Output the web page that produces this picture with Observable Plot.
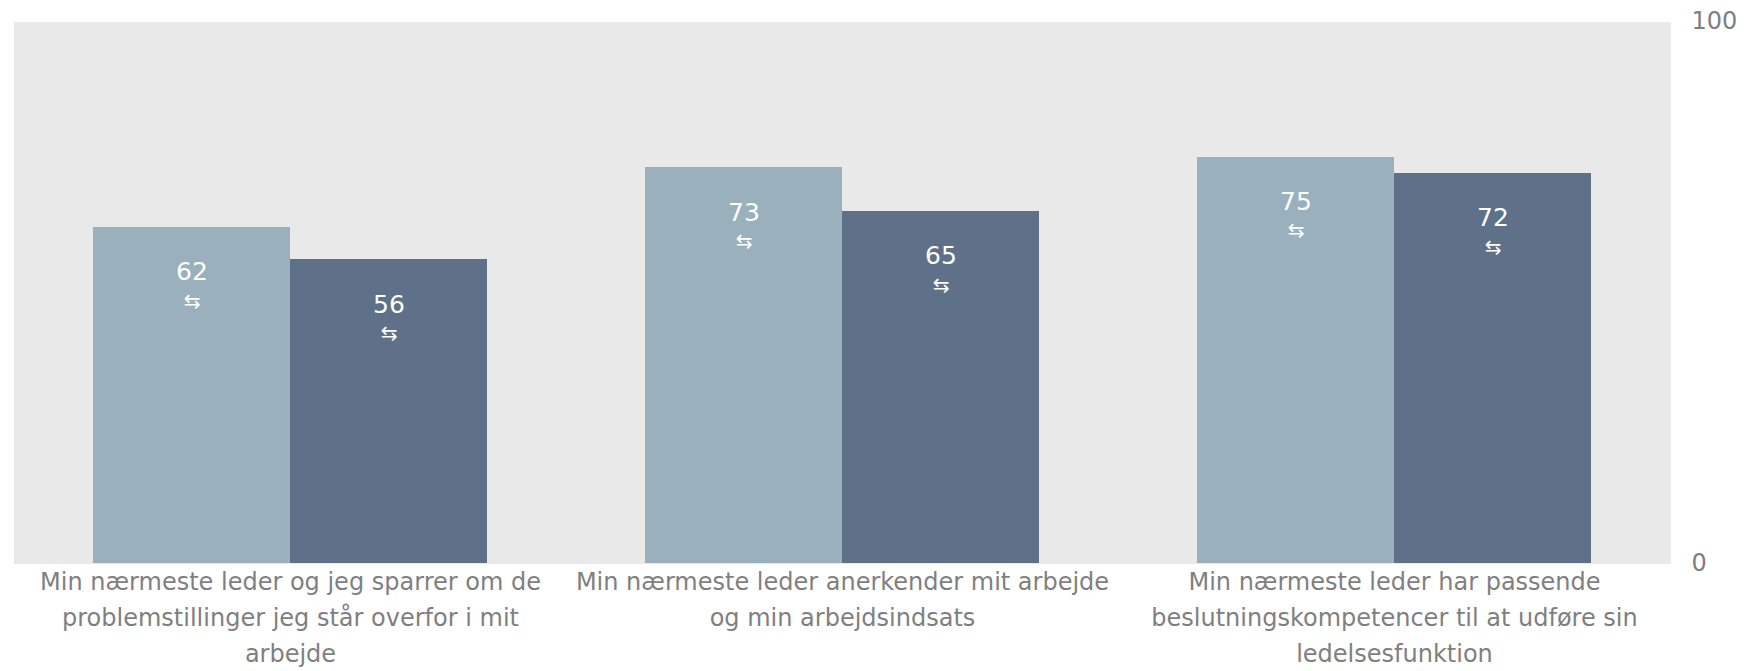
<!DOCTYPE html>
<html>
<head>
<meta charset="utf-8">
<script src="https://cdn.jsdelivr.net/npm/d3@7"></script>
<script src="https://cdn.jsdelivr.net/npm/@observablehq/plot@0.6"></script>
<style>
  html, body { margin: 0; padding: 0; background: #ffffff; }
  #chart svg { display: block; }
</style>
</head>
<body>
<div id="chart"></div>
<script>
const categories = [
  "Min nærmeste leder og jeg sparrer om de problemstillinger jeg står overfor i mit arbejde",
  "Min nærmeste leder anerkender mit arbejde og min arbejdsindsats",
  "Min nærmeste leder har passende beslutningskompetencer til at udføre sin ledelsesfunktion"
];
const tickLabels = [
  "Min nærmeste leder og jeg sparrer om de\nproblemstillinger jeg står overfor i mit\narbejde",
  "Min nærmeste leder anerkender mit arbejde\nog min arbejdsindsats",
  "Min nærmeste leder har passende\nbeslutningskompetencer til at udføre sin\nledelsesfunktion"
];
const seriesNames = ["Serie A", "Serie B"];
const seriesA = [62, 73, 75];
const seriesB = [56, 65, 72];
const seriesColors = ["#9ab1bd", "#5f7089"];
const yTicks = [0, 100];

const data = [];
categories.forEach((c, i) => {
  data.push({category: c, series: seriesNames[0], value: seriesA[i]});
  data.push({category: c, series: seriesNames[1], value: seriesB[i]});
});

const labelMap = new Map(categories.map((c, i) => [c, tickLabels[i]]));
const font = "'DejaVu Sans', sans-serif";

const chart = Plot.plot({
  width: 1744,
  height: 671,
  marginTop: 21,
  marginBottom: 108,
  marginLeft: 14,
  marginRight: 74,
  style: {fontFamily: font, color: "#7f7f7f", background: "#ffffff"},
  fx: {domain: categories, padding: 0, axis: null},
  x: {domain: seriesNames, paddingInner: 0, paddingOuter: 0.394, axis: null},
  y: {domain: [0, 100], axis: null},
  color: {domain: seriesNames, range: seriesColors},
  marks: [
    Plot.frame({fill: "#e9e9e9", stroke: null, insetLeft: -0.5, insetRight: -0.5, shapeRendering: "crispEdges"}),
    Plot.barY(data, {fx: "category", x: "series", y: "value", fill: "series", inset: 0, shapeRendering: "crispEdges"}),
    Plot.text(data, {fx: "category", x: "series", y: "value", text: d => String(d.value),
      fill: "#ffffff", fontSize: 25, lineAnchor: "bottom", dy: 53}),
    Plot.text(data, {fx: "category", x: "series", y: "value", text: () => "\u21c6",
      fill: "#ffffff", fontSize: 20, lineAnchor: "middle", dy: 74}),
    Plot.axisFx({anchor: "bottom", tickSize: 0, tickPadding: 1, fontSize: 24, lineHeight: 1.5,
      tickFormat: d => labelMap.get(d), label: null, fill: "#7f7f7f"}),
    Plot.axisY({anchor: "right", ticks: yTicks, tickSize: 0, tickPadding: 21, fontSize: 24,
      label: null, fill: "#7f7f7f", textAnchor: "start"})
  ]
});
document.getElementById("chart").appendChild(chart);
</script>
</body>
</html>
